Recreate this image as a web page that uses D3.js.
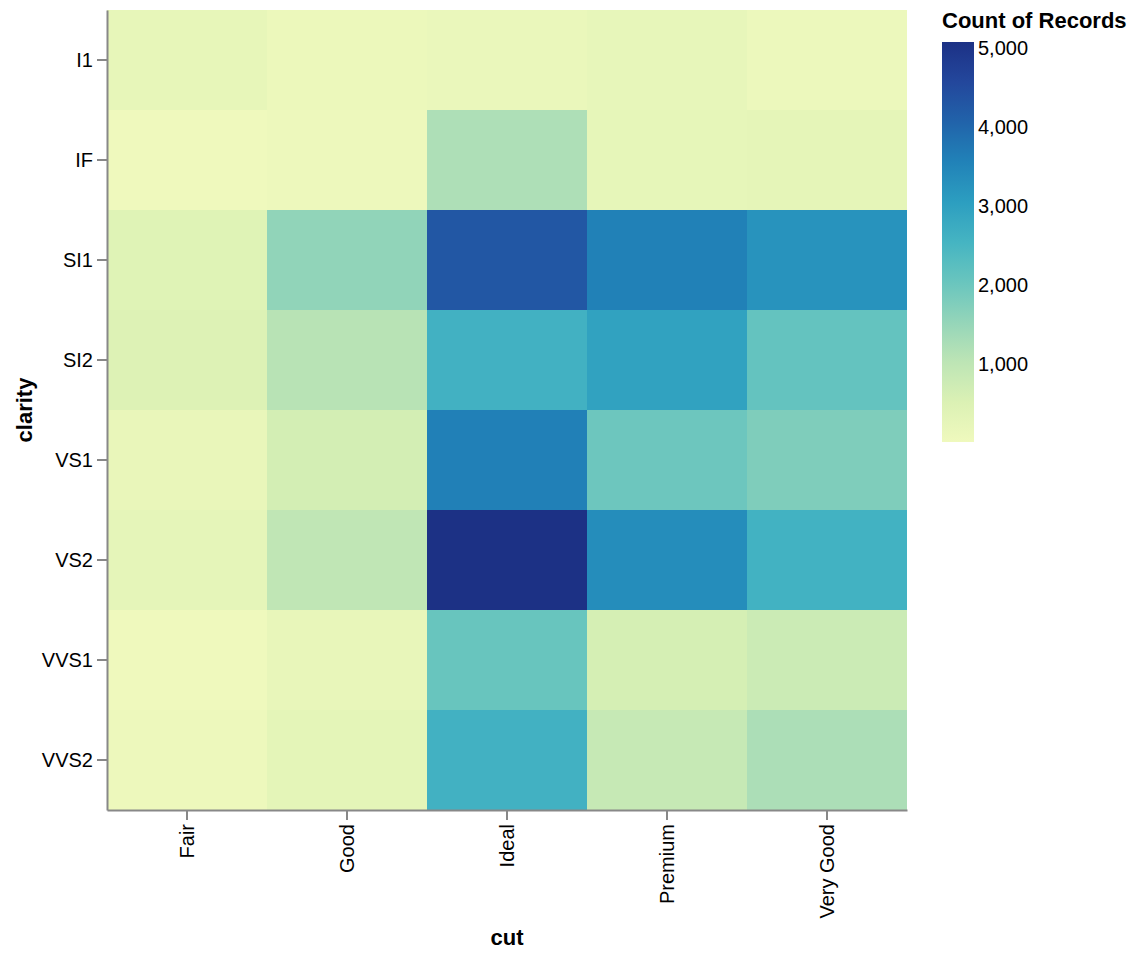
<!DOCTYPE html>
<html>
<head>
<meta charset="utf-8">
<script src="https://cdn.jsdelivr.net/npm/d3@7"></script>
<style>
  body { margin: 0; background: #fff; }
  text { font-family: "Liberation Sans", Arial, Helvetica, sans-serif; }
</style>
</head>
<body>
<svg id="chart" width="1138" height="960"></svg>
<script>
// ---- data ----
const cuts = ["Fair", "Good", "Ideal", "Premium", "Very Good"];
const clarities = ["I1", "IF", "SI1", "SI2", "VS1", "VS2", "VVS1", "VVS2"];
// counts per cut, ordered like clarities
const countsFair     = [210, 9, 408, 466, 170, 261, 17, 69];
const countsGood     = [96, 71, 1560, 1081, 648, 978, 186, 286];
const countsIdeal    = [146, 1212, 4282, 2598, 3589, 5071, 2047, 2606];
const countsPremium  = [205, 230, 3575, 2949, 1989, 3357, 616, 870];
const countsVeryGood = [84, 268, 3240, 2100, 1775, 2591, 789, 1235];
const legendTicks = [1000, 2000, 3000, 4000, 5000];
const schemeHex = "eff9bddbf1b4bde5b594d5b969c5be45b4c22c9ec02182b82163aa23479c1c3185";

const seriesByCut = [countsFair, countsGood, countsIdeal, countsPremium, countsVeryGood];
const cells = [];
cuts.forEach((c, i) => clarities.forEach((cl, j) => cells.push({cut: c, clarity: cl, count: seriesByCut[i][j]})));

// ---- layout ----
const mLeft = 107, mTop = 10, pW = 800, pH = 800;
const svg = d3.select("#chart");

const x = d3.scaleBand().domain(cuts).range([mLeft, mLeft + pW]).padding(0);
const y = d3.scaleBand().domain(clarities).range([mTop, mTop + pH]).padding(0);

const colors = schemeHex.match(/.{6}/g).map(h => "#" + h);
const interp = d3.piecewise(d3.interpolateRgb, colors);
const extent = d3.extent(cells, d => d.count);
const color = d3.scaleSequential(interp).domain(extent);

// cells
svg.append("g").selectAll("rect").data(cells).join("rect")
  .attr("x", d => x(d.cut))
  .attr("y", d => y(d.clarity))
  .attr("width", x.bandwidth())
  .attr("height", y.bandwidth())
  .attr("fill", d => color(d.count));

// axes
const axisColor = "#888";
const yAxis = svg.append("g").attr("transform", `translate(${mLeft},0)`)
  .call(d3.axisLeft(y).tickSizeInner(10).tickSizeOuter(0).tickPadding(4));
const xAxis = svg.append("g").attr("transform", `translate(0,${mTop + pH})`)
  .call(d3.axisBottom(x).tickSizeInner(10).tickSizeOuter(0).tickPadding(4));

[xAxis, yAxis].forEach(g => {
  g.select(".domain").attr("stroke", axisColor).attr("stroke-width", 2);
  g.selectAll(".tick line").attr("stroke", axisColor).attr("stroke-width", 2);
  g.selectAll(".tick text").attr("fill", "#000").style("font-size", "20px")
    .style("font-family", '"Liberation Sans", Arial, sans-serif');
});
yAxis.selectAll(".tick text").attr("dy", "0.35em");
xAxis.selectAll(".tick text")
  .attr("transform", "rotate(-90)")
  .attr("x", -14).attr("y", 0).attr("dy", "0.35em")
  .attr("text-anchor", "end");

// axis titles
svg.append("text")
  .attr("x", mLeft + pW / 2).attr("y", 945)
  .attr("text-anchor", "middle")
  .style("font-size", "22px").style("font-weight", "bold")
  .text("cut");
svg.append("text")
  .attr("transform", `translate(32,${mTop + pH / 2}) rotate(-90)`)
  .attr("text-anchor", "middle")
  .style("font-size", "22px").style("font-weight", "bold")
  .text("clarity");

// legend
const lgX = 942, lgY = 42, lgW = 32, lgH = 400;
const defs = svg.append("defs");
const grad = defs.append("linearGradient").attr("id", "lg")
  .attr("x1", "0").attr("y1", "1").attr("x2", "0").attr("y2", "0");
d3.range(0, 1.0001, 0.05).forEach(t => {
  grad.append("stop").attr("offset", t).attr("stop-color", interp(t));
});
svg.append("rect").attr("x", lgX).attr("y", lgY).attr("width", lgW).attr("height", lgH)
  .attr("fill", "url(#lg)");
const ly = d3.scaleLinear().domain(extent).range([lgY + lgH, lgY]);
svg.append("g").selectAll("text").data(legendTicks).join("text")
  .attr("x", lgX + lgW + 4)
  .attr("y", d => ly(d))
  .attr("dy", "0.35em")
  .style("font-size", "20px")
  .attr("fill", "#000")
  .text(d => d3.format(",")(d));
svg.append("text")
  .attr("x", lgX).attr("y", 28)
  .style("font-size", "22px").style("font-weight", "bold")
  .text("Count of Records");
</script>
</body>
</html>
